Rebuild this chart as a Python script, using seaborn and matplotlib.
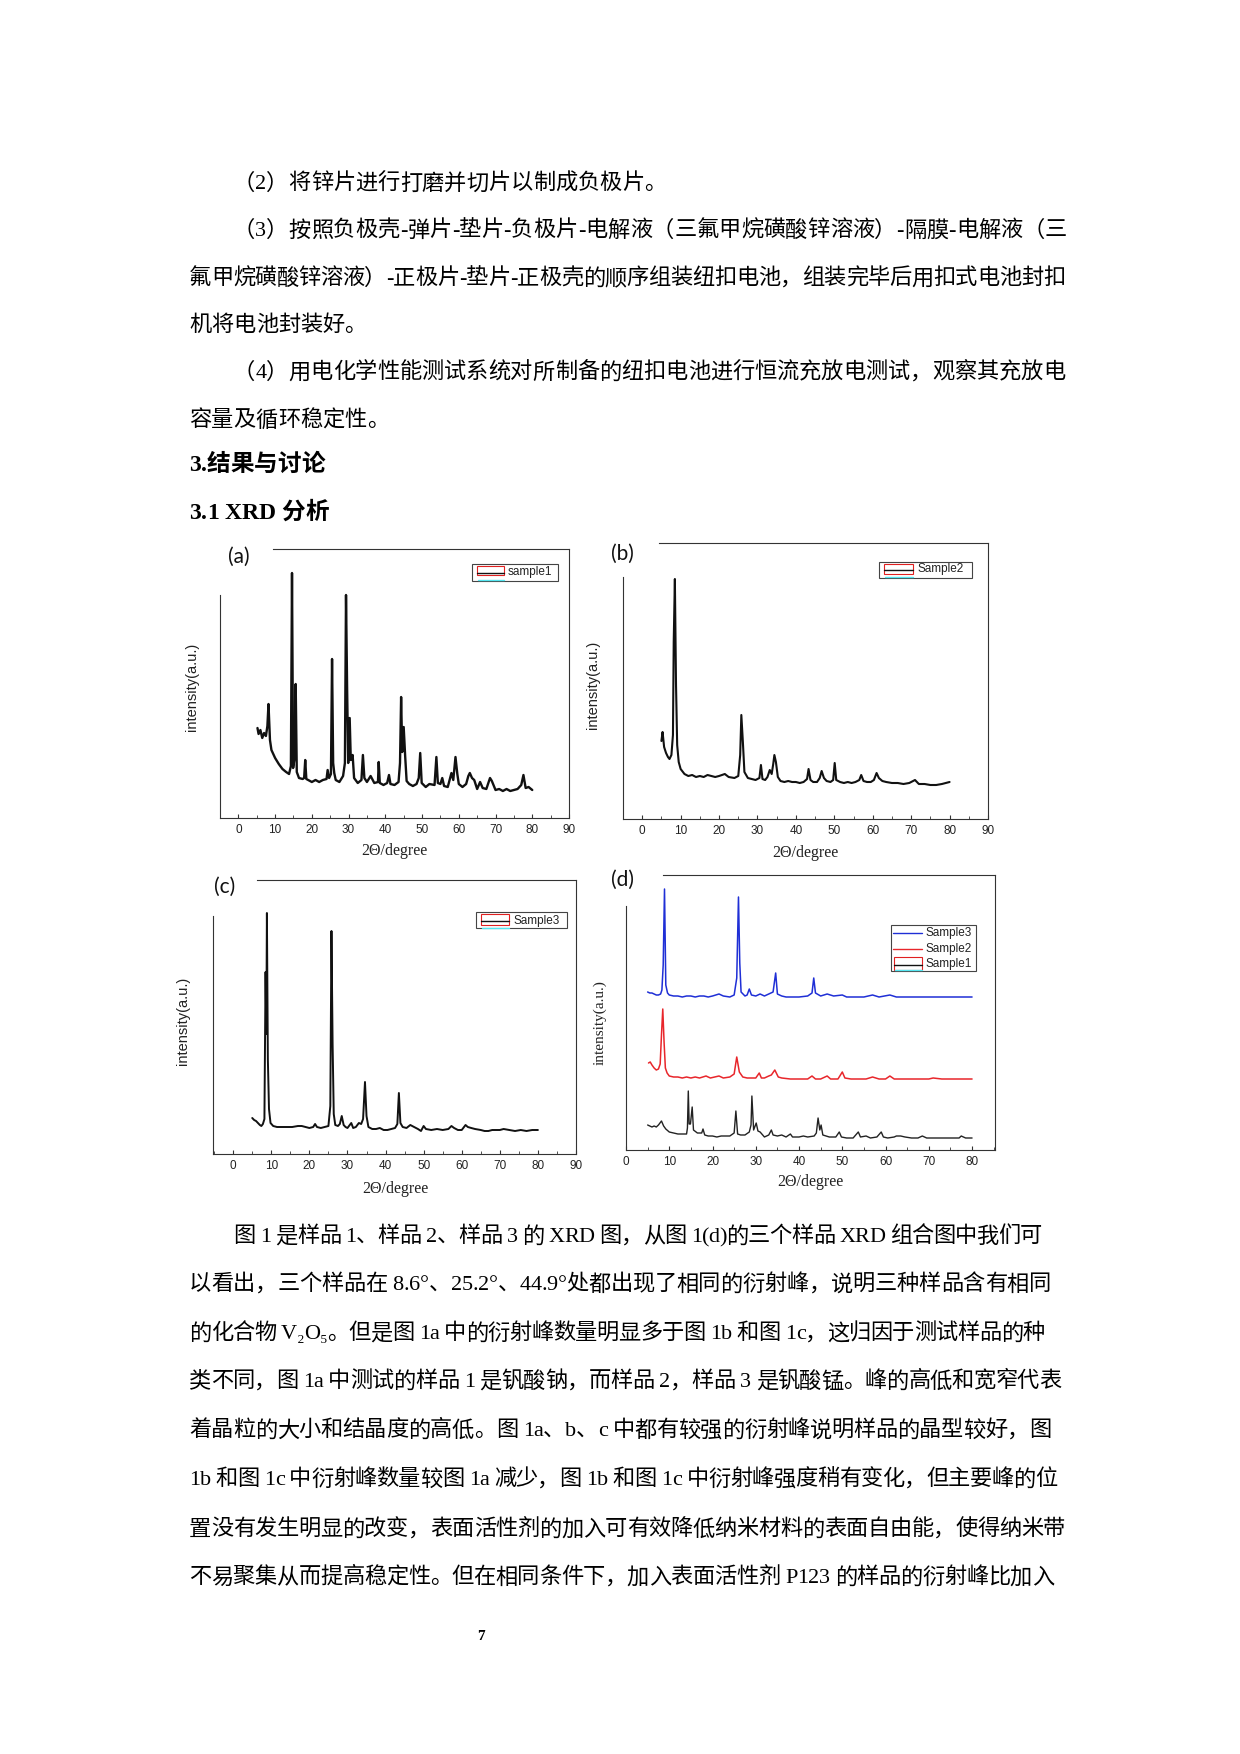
import matplotlib
matplotlib.use("Agg")
import matplotlib.pyplot as plt
import seaborn as sns
from matplotlib.patches import Rectangle
from matplotlib.lines import Line2D
from matplotlib.ticker import MultipleLocator
from matplotlib import font_manager as fm

# ---------------- data (2theta in degree, intensity in arbitrary units) ----------------
s1_x = [5.2, 5.5, 6.0, 6.5, 7.0, 7.5, 7.9, 8.2, 8.6, 9.0, 9.5, 10.0, 11.0, 12.0, 13.0, 13.8, 14.3, 14.6, 14.9, 15.3,
        15.6, 15.9, 16.5, 17.5, 17.9, 18.2, 18.5, 19.0, 20.0, 21.0, 22.0, 23.0, 24.0, 24.3, 24.7, 25.2, 25.5, 25.8, 26.1, 26.5,
        27.5, 28.5, 29.0, 29.3, 29.6, 29.9, 30.3, 30.6, 31.1, 31.5, 32.5, 33.5, 33.9, 34.3, 35.0, 36.0, 37.0, 38.0, 38.2, 38.5,
        39.5, 40.5, 41.0, 41.4, 42.5, 43.6, 44.0, 44.3, 44.6, 45.0, 45.4, 45.8, 46.5, 47.5, 48.5, 49.1, 49.5, 49.9, 51.0, 52.0,
        53.4, 53.9, 54.3, 55.0, 55.5, 56.0, 57.0, 58.0, 58.5, 59.1, 59.6, 60.0, 61.0, 62.0, 62.6, 63.0, 63.6, 64.2, 65.0, 65.8,
        66.5, 67.5, 68.5, 69.0, 70.0, 71.0, 72.0, 73.0, 74.0, 75.0, 76.0, 77.0, 77.6, 78.2, 79.0, 80.0]
s1_y = [90, 84, 88, 80, 85, 82, 92, 114, 78, 68, 64, 60, 54, 49, 46, 44, 52, 245, 50, 60,
        134, 46, 40, 39, 40, 58, 39, 38, 36, 38, 36, 38, 39, 48, 40, 44, 159, 55, 45, 38,
        36, 42, 55, 223, 130, 55, 100, 58, 63, 40, 35, 38, 63, 40, 36, 42, 35, 36, 56, 35,
        33, 35, 43, 34, 33, 36, 55, 121, 66, 91, 62, 37, 34, 32, 34, 40, 65, 35, 31, 34,
        33, 61, 35, 34, 40, 32, 31, 45, 38, 61, 44, 34, 31, 34, 42, 45, 40, 38, 29, 36,
        30, 29, 40, 37, 28, 29, 27, 29, 27, 28, 29, 33, 43, 30, 31, 28]

s2_x = [5.0, 5.3, 5.7, 6.2, 6.7, 7.1, 7.6, 8.0, 8.2, 8.5, 8.8, 9.1, 9.5, 10.0, 11.0, 12.0, 13.0, 14.0, 15.0, 16.0,
        17.0, 18.0, 19.0, 20.0, 21.5, 22.5, 24.0, 25.0, 25.5, 25.8, 26.2, 26.6, 27.5, 28.5, 29.5, 30.5, 30.9, 31.3, 32.0, 32.6,
        33.2, 33.7, 34.1, 34.4, 34.8, 35.3, 36.0, 37.0, 38.0, 39.0, 40.0, 41.0, 42.0, 42.9, 43.3, 43.8, 44.5, 45.5, 46.2, 46.7,
        47.3, 48.0, 49.0, 49.7, 50.1, 50.5, 51.5, 52.5, 53.5, 54.5, 55.5, 56.5, 57.0, 57.6, 58.5, 59.5, 60.3, 61.0, 61.6, 62.5,
        63.5, 65.0, 66.5, 68.0, 69.5, 71.0, 72.0, 73.5, 75.0, 76.5, 78.0, 79.0, 80.0]
s2_y = [78, 87, 72, 66, 62, 60, 64, 84, 177, 240, 134, 74, 57, 50, 45, 43, 44, 42, 43, 42,
        44, 43, 42, 43, 45, 42, 41, 43, 64, 104, 77, 47, 41, 40, 39, 41, 54, 40, 39, 42,
        49, 45, 55, 64, 57, 42, 38, 37, 38, 37, 37, 36, 37, 40, 50, 39, 37, 37, 41, 48,
        41, 38, 37, 39, 56, 39, 37, 36, 37, 36, 37, 39, 44, 38, 37, 37, 39, 46, 41, 38,
        37, 36, 36, 35, 36, 39, 35, 35, 34, 34, 35, 36, 37]

s3_x = [5.0, 5.5, 6.0, 6.5, 7.0, 7.4, 7.8, 8.2, 8.5, 8.7, 8.85, 9.1, 9.4, 9.8, 10.5, 11.5, 12.5, 14.0, 15.5, 17.0,
        18.0, 19.0, 20.0, 21.0, 21.5, 22.0, 23.0, 24.0, 25.0, 25.5, 25.8, 26.1, 26.4, 26.8, 27.5, 28.0, 28.5, 29.0, 29.5, 30.0,
        30.6, 31.0, 31.5, 32.2, 33.0, 33.6, 34.1, 34.6, 35.0, 35.5, 36.5, 37.5, 38.5, 39.5, 40.5, 41.5, 42.5, 43.1, 43.5, 43.9,
        44.5, 45.5, 46.5, 47.5, 48.5, 49.3, 50.0, 50.6, 52.0, 53.5, 55.0, 56.5, 57.3, 58.0, 59.0, 60.0, 61.0, 61.6, 62.5, 63.5,
        65.0, 66.0, 67.0, 68.0, 69.0, 70.0, 71.0, 72.5, 74.0, 75.5, 77.0, 78.5, 80.0]
s3_y = [36, 34, 33, 31, 29, 28, 30, 35, 182, 120, 241, 95, 45, 31, 28, 27, 27, 27, 27, 28,
        28, 27, 26, 27, 30, 27, 26, 27, 28, 48, 223, 110, 40, 29, 28, 30, 38, 29, 27, 26,
        29, 31, 26, 27, 31, 30, 35, 72, 38, 27, 25, 25, 26, 24, 24, 25, 26, 30, 61, 31,
        27, 26, 29, 27, 25, 23, 28, 25, 24, 25, 24, 25, 28, 26, 24, 24, 29, 27, 26, 25,
        24, 23, 23, 24, 24, 24, 25, 24, 23, 24, 23, 24, 24]

# panel (d): stacked patterns (offset included)
d3_x = [5.0, 5.5, 6.0, 6.5, 7.0, 7.5, 8.0, 8.3, 8.6, 8.9, 9.2, 9.6, 10.0, 11.0, 12.0, 13.0, 14.0, 15.0, 16.0, 17.0,
        18.0, 19.0, 20.0, 21.5, 22.5, 24.0, 25.0, 25.6, 26.0, 26.3, 26.6, 27.5, 28.0, 28.5, 29.0, 30.0, 31.0, 32.0, 33.0, 34.0,
        34.6, 35.0, 36.0, 37.0, 38.0, 40.0, 42.0, 43.0, 43.4, 43.8, 45.0, 46.5, 48.0, 50.0, 51.0, 53.0, 55.0, 57.0, 58.5, 61.0,
        62.5, 65.0, 68.0, 71.0, 74.0, 77.0, 80.0]
d3_y = [158, 157, 157, 156, 155, 155, 156, 160, 185, 261, 165, 157, 155, 154, 154, 153, 154, 154, 153, 154,
        154, 153, 154, 156, 154, 153, 155, 172, 253, 187, 158, 154, 155, 161, 155, 154, 156, 154, 156, 158,
        177, 156, 154, 153, 153, 153, 154, 157, 172, 157, 154, 156, 154, 155, 153, 153, 153, 155, 153, 155,
        153, 153, 153, 153, 153, 153, 153]
d2_x = [5.2, 5.6, 6.0, 6.5, 7.0, 7.5, 7.9, 8.2, 8.5, 8.8, 9.1, 9.5, 10.0, 11.0, 12.0, 13.0, 14.0, 15.0, 16.0, 17.0,
        18.5, 19.5, 21.5, 22.5, 24.0, 25.0, 25.6, 26.2, 27.0, 28.0, 29.0, 30.0, 30.8, 31.3, 32.0, 33.0, 33.6, 34.4, 35.2, 36.0,
        38.0, 40.0, 42.0, 43.0, 43.8, 45.0, 46.5, 47.3, 49.0, 50.0, 50.6, 52.0, 54.0, 55.5, 57.0, 58.5, 60.0, 61.0, 62.0, 64.0,
        67.0, 70.0, 71.0, 73.0, 76.0, 80.0]
d2_y = [87, 88, 85, 82, 80, 81, 86, 115, 141, 108, 82, 77, 74, 73, 73, 72, 73, 72, 73, 72,
        74, 72, 74, 72, 73, 76, 93, 78, 73, 72, 72, 72, 77, 72, 72, 74, 75, 80, 73, 72,
        71, 71, 71, 74, 71, 71, 74, 71, 71, 78, 72, 71, 71, 71, 73, 71, 71, 74, 71, 71,
        71, 71, 72, 71, 71, 71]
d1_x = [5.0, 5.5, 6.0, 6.5, 7.0, 7.5, 8.2, 8.7, 9.2, 10.0, 11.0, 12.0, 13.0, 14.0, 14.2, 14.4, 14.6, 14.9, 15.3, 15.6,
        16.5, 17.5, 17.8, 18.2, 19.0, 20.0, 21.0, 22.0, 23.0, 24.0, 25.0, 25.4, 25.8, 26.5, 27.5, 28.5, 28.9, 29.1, 29.5, 30.1,
        30.5, 31.0, 32.0, 33.0, 33.6, 34.0, 35.0, 36.0, 37.0, 38.0, 38.5, 40.0, 41.0, 42.0, 43.5, 44.0, 44.4, 44.8, 45.1, 45.5,
        47.0, 48.5, 49.3, 49.8, 51.0, 52.5, 53.7, 54.2, 55.5, 56.5, 58.0, 59.0, 59.5, 60.5, 62.0, 62.5, 63.5, 64.5, 66.0, 67.5,
        68.5, 69.5, 71.0, 73.0, 75.0, 77.0, 77.5, 78.5, 80.0]
d1_y = [25, 24, 23, 24, 23, 25, 29, 24, 21, 18, 17, 16, 16, 16, 22, 59, 26, 26, 43, 20,
        17, 17, 21, 15, 14, 14, 13, 14, 14, 14, 17, 39, 16, 15, 15, 18, 25, 54, 20, 27,
        19, 18, 13, 15, 20, 15, 14, 15, 13, 16, 13, 13, 14, 13, 14, 17, 32, 20, 25, 15,
        13, 13, 18, 13, 12, 12, 18, 13, 14, 12, 13, 18, 13, 12, 13, 14, 14, 13, 12, 12,
        14, 12, 12, 12, 12, 12, 14, 12, 12]

xticks_abc = [0, 10, 20, 30, 40, 50, 60, 70, 80, 90]
xticks_d = [0, 10, 20, 30, 40, 50, 60, 70, 80]
legend_labels = ["sample1", "Sample2", "Sample3"]
legend_labels_d = ["Sample3", "Sample2", "Sample1"]
xlabel = "2Θ/degree"
ylabel = "intensity(a.u.)"

top_lines = [
    "（2）将锌片进行打磨并切片以制成负极片。",
    "（3）按照负极壳-弹片-垫片-负极片-电解液（三氟甲烷磺酸锌溶液）-隔膜-电解液（三",
    "氟甲烷磺酸锌溶液）-正极片-垫片-正极壳的顺序组装纽扣电池，组装完毕后用扣式电池封扣",
    "机将电池封装好。",
    "（4）用电化学性能测试系统对所制备的纽扣电池进行恒流充放电测试，观察其充放电",
    "容量及循环稳定性。",
]
headings = ["3.结果与讨论", "3.1 XRD 分析"]
bottom_lines = [
    "图 1 是样品 1、样品 2、样品 3 的 XRD 图，从图 1(d)的三个样品 XRD 组合图中我们可",
    "以看出，三个样品在 8.6°、25.2°、44.9°处都出现了相同的衍射峰，说明三种样品含有相同",
    "的化合物 V₂O₅。但是图 1a 中的衍射峰数量明显多于图 1b 和图 1c，这归因于测试样品的种",
    "类不同，图 1a 中测试的样品 1 是钒酸钠，而样品 2，样品 3 是钒酸锰。峰的高低和宽窄代表",
    "着晶粒的大小和结晶度的高低。图 1a、b、c 中都有较强的衍射峰说明样品的晶型较好，图",
    "1b 和图 1c 中衍射峰数量较图 1a 减少，图 1b 和图 1c 中衍射峰强度稍有变化，但主要峰的位",
    "置没有发生明显的改变，表面活性剂的加入可有效降低纳米材料的表面自由能，使得纳米带",
    "不易聚集从而提高稳定性。但在相同条件下，加入表面活性剂 P123 的样品的衍射峰比加入",
]
page_number = "7"

# ---------------- setup ----------------
sns.set_style("white")
plt.rcParams["font.family"] = ["Liberation Sans", "DejaVu Sans"]
W, H = 1240, 1754
fig = plt.figure(figsize=(W / 100, H / 100), dpi=100)
fig.patch.set_facecolor("white")

def fx(px):
    return px / W

def fy(py):
    return 1 - py / H

def ftext(x, y, s, **kw):
    return fig.text(fx(x), fy(y), s, **kw)

def frect(l, t, r, b, **kw):
    fig.add_artist(Rectangle((fx(l), fy(b)), (r - l) / W, (b - t) / H, transform=fig.transFigure, **kw))

def fline(x0, x1, y0, y1, **kw):
    fig.add_artist(Line2D([fx(x0), fx(x1)], [fy(y0), fy(y1)], transform=fig.transFigure, **kw))

SP = "#333333"

def panel(box, xlim, ticks, ytop, left_top, top_start, series):
    l, t, r, b = box
    ax = fig.add_axes([fx(l), fy(b), (r - l) / W, (b - t) / H])
    ax.patch.set_alpha(0)
    for xs, ys, col, lw in series:
        sns.lineplot(x=xs, y=ys, ax=ax, color=col, linewidth=lw, estimator=None, sort=False, legend=False)
    ax.set_xlim(*xlim)
    ax.set_ylim(0, ytop)
    ax.set_xticks(ticks)
    ax.set_xticklabels([str(v) for v in ticks])
    ax.xaxis.set_minor_locator(MultipleLocator(5))
    ax.set_yticks([])
    ax.set_xlabel("")
    ax.set_ylabel("")
    ax.tick_params(axis="x", which="both", direction="in", colors=SP, labelcolor="#222222",
                   labelsize=8.5, pad=4, top=False, bottom=True)
    ax.tick_params(axis="x", which="major", length=3.2, width=0.8)
    ax.tick_params(axis="x", which="minor", length=2, width=0.6)
    for s in ax.spines.values():
        s.set_visible(True)
        s.set_color(SP)
        s.set_linewidth(0.8)
    ax.spines["left"].set_bounds(0, left_top)
    ax.spines["top"].set_bounds(top_start, xlim[1])
    return ax

# (a)
panel((220, 549, 569, 818), (-5, 90), xticks_abc, 269, 223, 9.5, [(s1_x, s1_y, "#111111", 1.7)])
# (b)
panel((623, 543, 988, 819), (-5, 90), xticks_abc, 276, 242, 4.3, [(s2_x, s2_y, "#111111", 1.5)])
# (c)
panel((213, 880, 576, 1154), (-5.3, 90), xticks_abc, 274, 238, 6.3, [(s3_x, s3_y, "#111111", 1.4)])
# (d)
panel((626, 875, 995, 1150), (0, 85.3), xticks_d, 275, 244, 8.5,
      [(d1_x, d1_y, "#222222", 1.0), (d2_x, d2_y, "#e8262b", 1.1), (d3_x, d3_y, "#1f2fd6", 1.1)])

# panel letters
for (x, y, s) in [(239, 557, "(a)"), (622, 554, "(b)"), (225, 887, "(c)"), (623, 880, "(d)")]:
    ftext(x, y, s, family=["Lato", "DejaVu Sans"], fontsize=15, ha="center", va="center", color="#111111")

# axis labels
for (x, y) in [(394, 851), (805, 853), (395, 1189), (810, 1182)]:
    ftext(x, y, xlabel, family=["Liberation Serif", "DejaVu Serif"], fontsize=11.5, ha="center", va="center", color="#222222")
for (x, y) in [(192, 687), (593, 685), (183, 1021)]:
    ftext(x, y, ylabel, family=["Liberation Sans", "DejaVu Sans"], fontsize=10.5, rotation=90, ha="center", va="center", color="#222222")
ftext(600, 1023, ylabel, family=["Liberation Serif", "DejaVu Serif"], fontsize=11, rotation=90, ha="center", va="center", color="#222222")

# Origin-style legends
def origin_handle(l, t, r, b, yline, ycyan):
    frect(l, t, r, b, facecolor="none", edgecolor="#e02020", linewidth=0.8)
    fline(l, r, yline, yline, color="#111111", linewidth=1.0)
    fline(l + 1, r, ycyan, ycyan, color="#55e5f0", linewidth=1.0)

LEGFONT = dict(family=["Liberation Sans", "DejaVu Sans"], fontsize=8.5, ha="left", va="center", color="#222222")
# (a)
frect(472, 564, 558, 581, facecolor="white", edgecolor="#444444", linewidth=0.8)
origin_handle(477, 566, 504, 575, 573, 580)
ftext(508, 572.5, legend_labels[0], **LEGFONT)
# (b)
frect(879, 562, 972, 578, facecolor="white", edgecolor="#444444", linewidth=0.8)
origin_handle(884, 563.5, 913, 574, 570, 577)
ftext(917, 569.5, legend_labels[1], **LEGFONT)
# (c)
frect(476, 912, 567, 928, facecolor="white", edgecolor="#444444", linewidth=0.8)
origin_handle(481, 914, 509, 925, 921, 927.5)
ftext(513, 921, legend_labels[2], **LEGFONT)
# (d)
frect(891, 925, 976, 971, facecolor="white", edgecolor="#444444", linewidth=0.8)
fline(893, 922, 933, 933, color="#1f2fd6", linewidth=1.0)
ftext(925, 933, legend_labels_d[0], **LEGFONT)
fline(893, 922, 948.5, 948.5, color="#e8262b", linewidth=1.0)
ftext(925, 948.5, legend_labels_d[1], **LEGFONT)
origin_handle(894, 957, 922, 969.5, 964.5, 970)
ftext(925, 964, legend_labels_d[2], **LEGFONT)

# ---------------- body text with per-character justification ----------------
BODY_FAM = ["Liberation Serif", "Noto Sans CJK SC", "DejaVu Serif"]
try:
    from matplotlib.ft2font import LoadFlags
    NOHINT = LoadFlags.NO_HINTING
except Exception:
    NOHINT = 2

_paths = {}

def font_paths(weight):
    if weight not in _paths:
        fp = fm.FontProperties(family=BODY_FAM, weight=weight)
        _paths[weight] = fm.fontManager._find_fonts_by_props(fp)
    return _paths[weight]

_adv = {}

def adv(ch, size, weight):
    key = (ch, size, weight)
    if key in _adv:
        return _adv[key]
    val = size * 100 / 72 * 0.5
    for p in font_paths(weight):
        f = fm.get_font(p)
        if f.get_char_index(ord(ch)):
            f.set_size(size, 100)
            g = f.load_char(ord(ch), flags=NOHINT)
            val = g.linearHoriAdvance / 65536.0
            break
    _adv[key] = val
    return val

def put_line(text, x0, yc, size=16, weight="normal", x1=None):
    advs = [adv(c, size, weight) for c in text]
    nat = sum(advs)
    extra = 0.0
    if x1 is not None and len(text) > 1:
        extra = (x1 - x0 - nat) / (len(text) - 1)
    em = size * 100 / 72
    yb = yc + 0.38 * em
    x = x0
    for c, a in zip(text, advs):
        if c != " ":
            ftext(x, yb, c, fontsize=size, family=BODY_FAM, fontweight=weight,
                  ha="left", va="baseline", color="black")
        x += a + extra

L = 189
IND = 233
put_line(top_lines[0], IND, 181)
put_line(top_lines[1], IND, 228, x1=1067)
put_line(top_lines[2], L, 276, x1=1065)
put_line(top_lines[3], L, 323)
put_line(top_lines[4], IND, 370, x1=1065)
put_line(top_lines[5], L, 418)
put_line(headings[0], L, 462, size=17, weight="bold")
put_line(headings[1], L, 510, size=17, weight="bold")

b_y = [1234, 1282, 1331, 1379, 1428, 1477, 1527, 1575]
b_end = [1042, 1051, 1045, 1061, 1051, 1057, 1065, 1054]
for i, (s, y, e) in enumerate(zip(bottom_lines, b_y, b_end)):
    put_line(s, IND if i == 0 else L, y, x1=e)

ftext(481, 1637, page_number, family=["Liberation Serif", "DejaVu Serif"], fontsize=11,
      fontweight="bold", ha="center", va="center", color="black")

fig.savefig("out.png", dpi=100, facecolor="white")
